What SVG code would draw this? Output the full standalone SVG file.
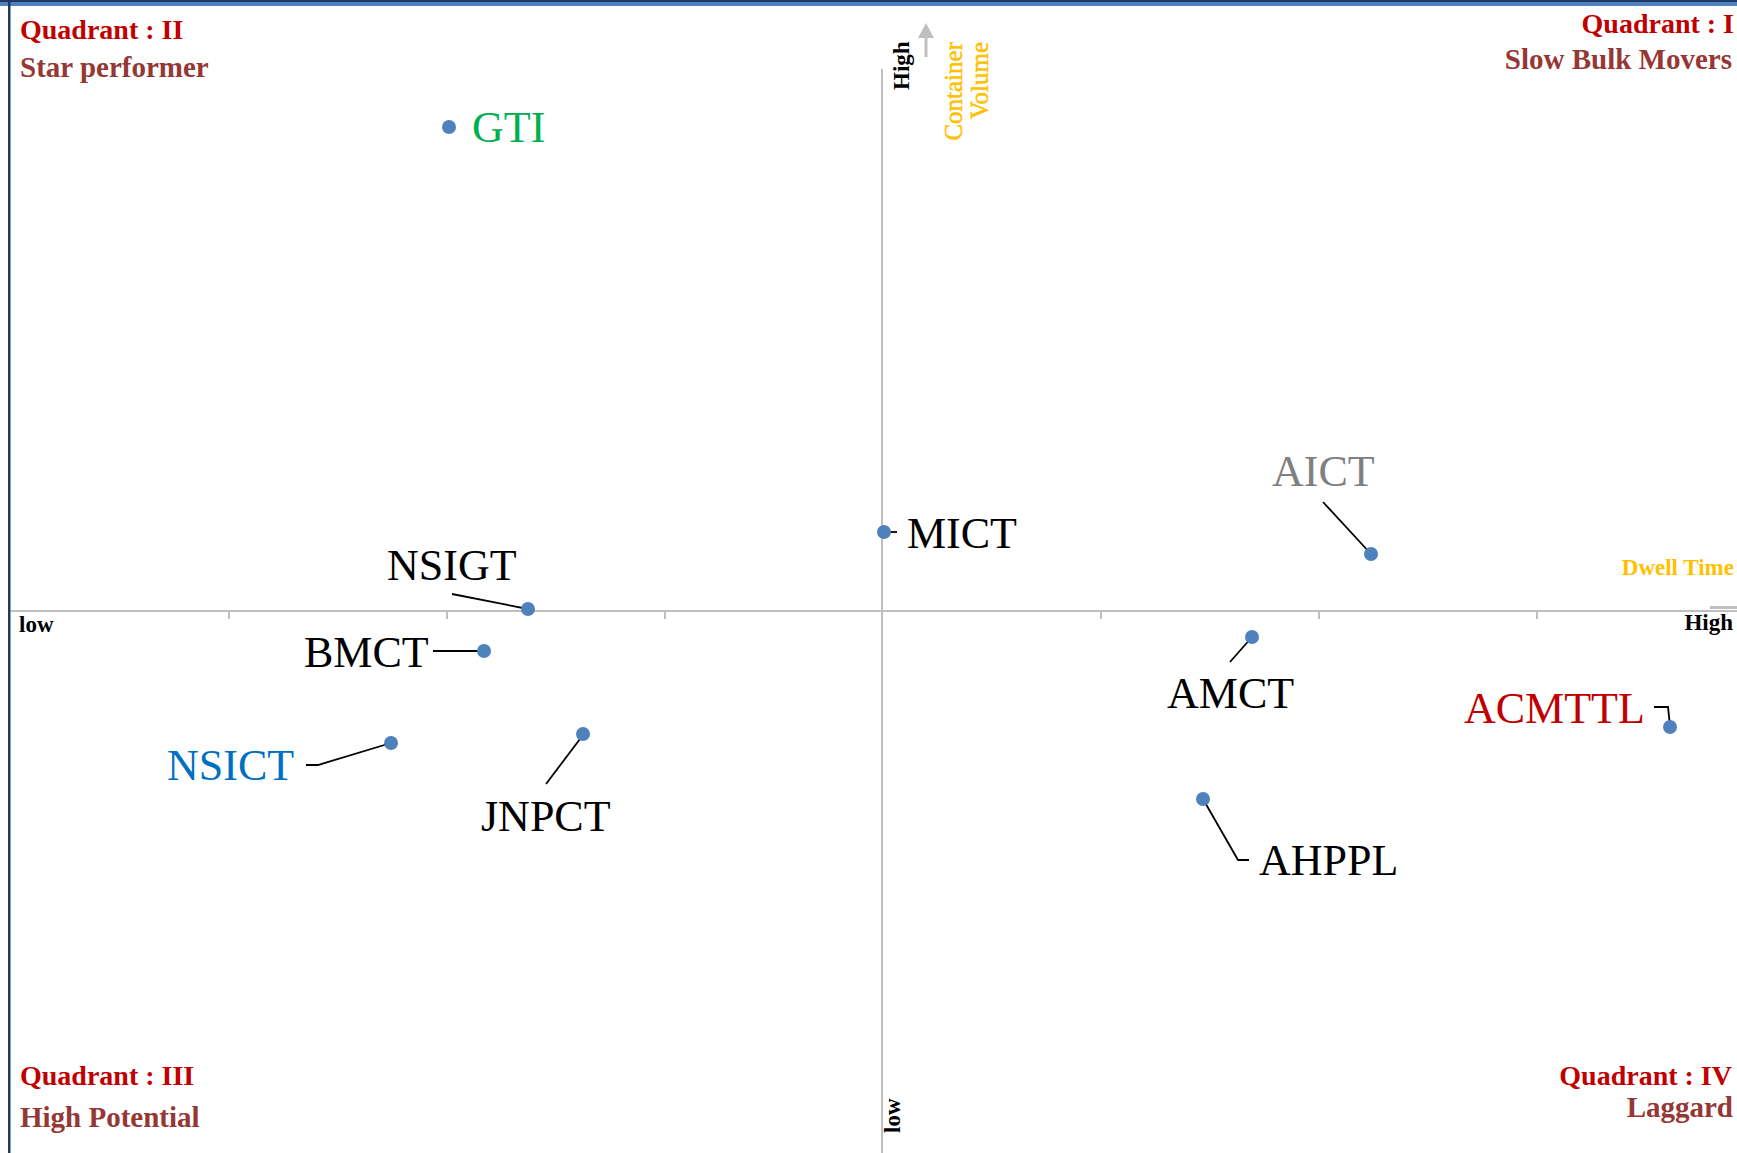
<svg xmlns="http://www.w3.org/2000/svg" width="1737" height="1153" viewBox="0 0 1737 1153">
<style>
.ax{stroke:#BFBFBF;stroke-width:2;fill:none}
.ld{stroke:#000;stroke-width:1.8;fill:none}
.dot{fill:#4F81BD}
.lbl{font-family:"Liberation Serif",serif;font-size:44px;fill:#000}
.qt{font-family:"Liberation Serif",serif;font-size:28px;font-weight:bold;fill:#C00000}
.qs{font-family:"Liberation Serif",serif;font-size:29px;font-weight:bold;fill:#953735}
.sm{font-family:"Liberation Serif",serif;font-size:23px;font-weight:bold;fill:#000}
.or{font-family:"Liberation Serif",serif;font-size:25px;fill:#FFC000;stroke:#FFC000;stroke-width:0.5}
.end{text-anchor:end}
</style>
<rect x="0" y="0" width="1737" height="1153" fill="#FFFFFF"/>
<g id="frame">
<rect x="0" y="0" width="1737" height="2" fill="#1F3864"/>
<rect x="0" y="2" width="1737" height="4" fill="#4F81BD"/>
<rect x="8" y="0" width="2.5" height="1153" fill="#1F3864"/>
</g>
<g id="axes">
<line class="ax" x1="882" y1="69" x2="882" y2="1153"/>
<line class="ax" x1="11" y1="611" x2="1737" y2="611"/>
<path class="ax" d="M229 611V619M447 611V619M665 611V619M1101 611V619M1319 611V619M1537 611V619"/>
<line x1="1710" y1="607.5" x2="1737" y2="607.5" stroke="#BFBFBF" stroke-width="3"/>
<line x1="926" y1="57" x2="926" y2="36" stroke="#BFBFBF" stroke-width="3"/>
<polygon points="918,38 934,38 926,23" fill="#BFBFBF"/>
<text class="sm" x="19" y="632">low</text>
<text class="sm end" x="1733" y="630">High</text>
<text class="sm end" x="1734" y="575" style="fill:#FFC000">Dwell Time</text>
<text class="sm" transform="translate(909,90) rotate(-90)">High</text>
<text class="sm" transform="translate(900,1133) rotate(-90)">low</text>
<text class="or end" transform="translate(962,42) rotate(-90)">Container</text>
<text class="or end" transform="translate(988,42) rotate(-90)">Volume</text>
</g>
<g id="quadrants">
<text class="qt" x="20" y="39">Quadrant : II</text>
<text class="qs" x="20" y="77">Star performer</text>
<text class="qt end" x="1734" y="33">Quadrant : I</text>
<text class="qs end" x="1732" y="69">Slow Bulk Movers</text>
<text class="qt" x="20" y="1085">Quadrant : III</text>
<text class="qs" x="20" y="1127">High Potential</text>
<text class="qt end" x="1732" y="1085">Quadrant : IV</text>
<text class="qs end" x="1733" y="1117">Laggard</text>
</g>
<g id="connectors">
<line class="ld" x1="884" y1="532" x2="897" y2="532"/>
<line class="ld" x1="1323" y1="502" x2="1371" y2="554"/>
<line class="ld" x1="452" y1="594" x2="528" y2="609"/>
<line class="ld" x1="433" y1="651" x2="484" y2="651"/>
<polyline class="ld" points="306,765 318,765 391,743"/>
<line class="ld" x1="546" y1="784" x2="583" y2="735"/>
<line class="ld" x1="1230" y1="662" x2="1252" y2="637"/>
<polyline class="ld" points="1654,707 1668,707 1670,726"/>
<polyline class="ld" points="1203,799 1238,860 1249,860"/>
</g>
<g id="node-GTI"><circle class="dot" cx="449" cy="127" r="7"/><text class="lbl" x="472" y="142" style="fill:#00B050">GTI</text></g>
<g id="node-MICT"><circle class="dot" cx="884" cy="532" r="7"/><text class="lbl" x="907" y="548">MICT</text></g>
<g id="node-AICT"><circle class="dot" cx="1371" cy="554" r="7"/><text class="lbl" x="1272" y="486" style="fill:#808080">AICT</text></g>
<g id="node-NSIGT"><circle class="dot" cx="528" cy="609" r="7"/><text class="lbl" x="387" y="580">NSIGT</text></g>
<g id="node-BMCT"><circle class="dot" cx="484" cy="651" r="7"/><text class="lbl" x="304" y="667">BMCT</text></g>
<g id="node-NSICT"><circle class="dot" cx="391" cy="743" r="7"/><text class="lbl" x="167" y="780" style="fill:#0070C0">NSICT</text></g>
<g id="node-JNPCT"><circle class="dot" cx="583" cy="734" r="7"/><text class="lbl" x="481" y="831">JNPCT</text></g>
<g id="node-AMCT"><circle class="dot" cx="1252" cy="637" r="7"/><text class="lbl" x="1167" y="708">AMCT</text></g>
<g id="node-ACMTTL"><circle class="dot" cx="1670" cy="727" r="7"/><text class="lbl" x="1464" y="723" style="fill:#C00000">ACMTTL</text></g>
<g id="node-AHPPL"><circle class="dot" cx="1203" cy="799" r="7"/><text class="lbl" x="1259" y="875">AHPPL</text></g>
</svg>
